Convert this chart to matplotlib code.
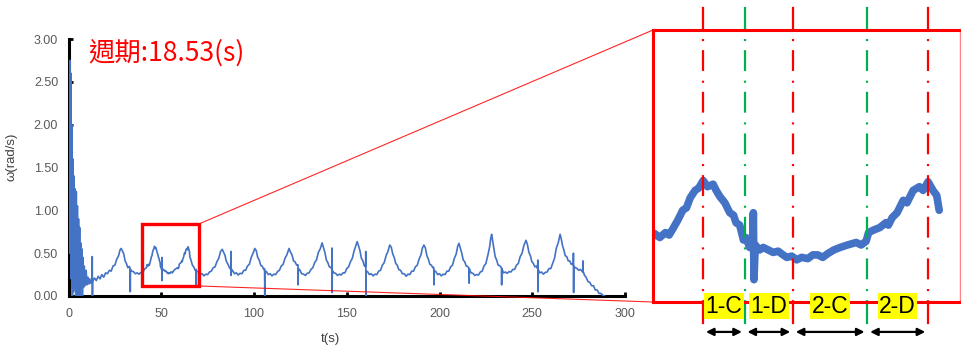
import matplotlib.pyplot as plt
import matplotlib.transforms as mtransforms
from matplotlib.patches import Rectangle, ConnectionPatch

plt.rcParams['lines.scale_dashes'] = False

# angular velocity, time in seconds
t_sec = [
    0.5, 0.9, 1.1, 1.3, 1.5, 1.7, 1.85, 1.95, 2.1, 2.4, 2.7, 3.0, 3.3, 3.6, 3.9, 4.2, 4.5, 4.8, 5.1, 5.4,
    5.7, 6.0, 6.3, 6.6, 6.9, 7.2, 7.5, 7.8, 8.1, 8.5, 9.0, 9.5, 10.0, 10.5, 11.0, 11.5, 12.0, 12.7, 12.8, 12.9, 13.0,
    14, 15, 16, 17, 18, 19, 20, 21, 22, 23, 24, 25, 26, 27, 27.8, 28.4,
    29.2, 29.8, 30.5, 31.2, 32.0, 32.8, 33.2, 33.3, 33.4, 34, 35, 36, 37, 38, 39, 40, 41, 42,
    42.4, 42.85, 43.3, 43.6, 43.9, 44.3, 44.7, 45.0, 45.3, 45.7, 46.0, 46.35, 46.7, 47.15, 47.4, 47.7, 48.1, 48.5,
    48.8, 49.0, 49.3, 49.6, 49.8, 50.1, 50.35, 50.4, 50.45, 50.55, 50.9, 51.2, 51.6, 52.0, 52.4, 52.8, 53.1, 53.5,
    53.9, 54.3, 54.8, 55.2, 55.6, 56.0, 56.4, 56.9, 57.4, 58.0, 58.7, 59.1, 59.5, 59.7, 60.1, 60.6, 61.1, 61.3,
    61.6, 62.0, 62.5, 62.8, 63.3, 63.8, 64.1, 64.5, 64.9, 65.2, 65.4,
    66, 66.8, 67.5, 68.3, 68.8, 68.9, 69.0, 70, 71, 72, 73, 74, 75, 76, 77, 78, 79, 80, 81, 82, 82.9,
    83.6, 84.3, 85, 86, 87, 87.5, 87.6, 87.7, 87.8, 88.5, 89.5, 90.5, 91.5, 92.5, 93.5, 94.5, 95.5, 96.5, 97.5, 98.5, 99.5, 100.4,
    101.2, 102, 102.8, 103.6, 104.5, 105.3, 105.7, 105.8, 105.9, 106.7, 107.7, 108.7, 109.7, 110.7, 111.7, 112.7, 113.7, 114.7, 115.7, 116.7, 117.7, 118.9,
    119.7, 120.5, 121.3, 122.1, 123, 123.7, 123.8, 123.9, 124.7, 125.7, 126.7, 127.7, 128.7, 129.7, 130.7, 131.7, 132.7, 133.7, 134.7, 135.7, 136.7,
    137.4, 138.2, 139, 139.8, 140.6, 141.4, 142.0, 142.05, 142.15, 142.2, 143, 144, 145, 146, 147, 148, 149, 150, 151, 152, 153, 154, 154.8, 155.6,
    156.3, 157.1, 157.9, 158.7, 159.5, 160.2, 160.25, 160.35, 160.4, 161.2, 162.2, 163.2, 164.2, 165.2, 166.2, 167.2, 168.2, 169.2, 170.2, 171.2, 172.2, 173.2,
    174, 174.8, 175.6, 176.4, 177.2, 178, 179, 180, 181, 182, 183, 184, 185, 186, 187, 188, 189, 190, 190.8, 191.6,
    192.4, 193.2, 194, 194.8, 195.6, 196.4, 196.9, 197.0, 197.1, 198, 199, 200, 201, 202, 203, 204, 205, 206, 207, 208, 209, 209.8, 210.5,
    211.2, 212, 212.8, 213.6, 214.4, 215.2, 215.9, 216.0, 216.1, 217, 218, 219, 220, 221, 222, 223, 224, 225, 226, 227, 227.6, 228.1,
    228.6, 229.2, 230, 230.8, 231.6, 232.4, 233.4, 233.5, 233.6, 234.5, 235.5, 236.5, 237.5, 238.5, 239.5, 240.5, 241.5, 242.5, 243.5, 244.5, 245.5, 246.6,
    247.4, 248.2, 249, 249.8, 250.6, 251.4, 252.2, 252.9, 253.0, 253.1, 253.2, 254, 255, 256, 257, 258, 259, 260, 261, 262, 263, 264, 265,
    265.6, 266.3, 267, 267.8, 268.6, 269.4, 270.2, 271, 271.8, 272.1, 272.2, 272.3, 272.4, 273.2, 274, 275, 276, 277.2, 277.3, 277.4,
    278.2, 279, 280, 281, 282, 283, 284, 285, 286, 287, 288, 289,
]
omega = [
    0.5, 2.75, 0.6, 2.6, 0.2, 2.0, 0.1, 1.95, 0.0, 1.6, 0.05, 1.4, 0.1, 1.25, 0.0, 1.22, 0.15, 1.05, 0.0, 0.9,
    0.1, 0.8, 0.0, 0.62, 0.1, 0.55, 0.0, 0.45, 0.1, 0.35, 0.12, 0.3, 0.13, 0.22, 0.14, 0.2, 0.15, 0.17, 0.46, 0.0, 0.17,
    0.21, 0.18, 0.23, 0.2, 0.25, 0.22, 0.27, 0.26, 0.3, 0.29, 0.35, 0.36, 0.43, 0.47, 0.54, 0.555,
    0.52, 0.49, 0.41, 0.38, 0.33, 0.345, 0.32, 0.05, 0.31, 0.29, 0.285, 0.26, 0.27, 0.255, 0.275, 0.27, 0.315, 0.33,
    0.367, 0.35, 0.37, 0.36, 0.385, 0.42, 0.46, 0.47, 0.51, 0.54, 0.55, 0.58, 0.555, 0.565, 0.54, 0.515, 0.49, 0.45,
    0.44, 0.41, 0.40, 0.34, 0.35, 0.31, 0.31, 0.45, 0.18, 0.32, 0.30, 0.31, 0.30, 0.29, 0.295, 0.28, 0.27, 0.275,
    0.26, 0.27, 0.265, 0.28, 0.28, 0.27, 0.285, 0.30, 0.31, 0.32, 0.33, 0.32, 0.335, 0.37, 0.38, 0.39, 0.41, 0.40,
    0.43, 0.45, 0.50, 0.49, 0.54, 0.555, 0.54, 0.575, 0.54, 0.52, 0.46,
    0.42, 0.36, 0.34, 0.3, 0.31, 0.11, 0.29, 0.285, 0.255, 0.26, 0.235, 0.255, 0.25, 0.28, 0.29, 0.33, 0.34, 0.4, 0.44, 0.52, 0.545,
    0.51, 0.48, 0.41, 0.37, 0.32, 0.335, 0.52, 0.24, 0.31, 0.295, 0.26, 0.27, 0.245, 0.265, 0.26, 0.3, 0.3, 0.35, 0.37, 0.45, 0.5, 0.555,
    0.53, 0.45, 0.42, 0.36, 0.345, 0.31, 0.32, 0.0, 0.29, 0.285, 0.25, 0.26, 0.235, 0.255, 0.25, 0.285, 0.3, 0.35, 0.37, 0.44, 0.48, 0.555,
    0.51, 0.48, 0.41, 0.4, 0.36, 0.365, 0.13, 0.32, 0.305, 0.26, 0.255, 0.24, 0.265, 0.27, 0.31, 0.33, 0.39, 0.42, 0.51, 0.55, 0.62,
    0.57, 0.51, 0.42, 0.39, 0.34, 0.335, 0.31, 0.56, 0.04, 0.3, 0.27, 0.265, 0.24, 0.255, 0.245, 0.27, 0.27, 0.32, 0.34, 0.4, 0.44, 0.53, 0.58, 0.635,
    0.59, 0.53, 0.44, 0.41, 0.35, 0.345, 0.52, 0.0, 0.29, 0.285, 0.25, 0.26, 0.235, 0.255, 0.25, 0.29, 0.3, 0.36, 0.39, 0.47, 0.52, 0.595,
    0.57, 0.49, 0.45, 0.38, 0.36, 0.31, 0.3, 0.26, 0.26, 0.23, 0.255, 0.25, 0.29, 0.29, 0.34, 0.36, 0.43, 0.48, 0.56, 0.595,
    0.56, 0.47, 0.43, 0.37, 0.36, 0.33, 0.335, 0.13, 0.3, 0.285, 0.25, 0.26, 0.235, 0.255, 0.25, 0.29, 0.29, 0.34, 0.36, 0.44, 0.49, 0.58, 0.615,
    0.56, 0.5, 0.42, 0.4, 0.35, 0.345, 0.32, 0.15, 0.32, 0.27, 0.265, 0.24, 0.25, 0.245, 0.28, 0.29, 0.35, 0.38, 0.47, 0.57, 0.67, 0.72,
    0.65, 0.57, 0.46, 0.42, 0.36, 0.355, 0.33, 0.13, 0.32, 0.27, 0.28, 0.265, 0.285, 0.28, 0.31, 0.31, 0.36, 0.38, 0.46, 0.5, 0.59, 0.65,
    0.6, 0.51, 0.47, 0.4, 0.38, 0.34, 0.35, 0.32, 0.42, 0.05, 0.31, 0.27, 0.28, 0.255, 0.275, 0.28, 0.32, 0.32, 0.38, 0.44, 0.56, 0.62, 0.72,
    0.67, 0.59, 0.54, 0.47, 0.46, 0.41, 0.41, 0.37, 0.38, 0.36, 0.5, 0.04, 0.35, 0.33, 0.325, 0.3, 0.31, 0.28, 0.41, 0.29,
    0.24, 0.22, 0.17, 0.16, 0.12, 0.12, 0.07, 0.07, 0.03, 0.03, 0.01, 0.0,
]
assert len(t_sec) == len(omega)

x_ticks = [0, 50, 100, 150, 200, 250, 300]
y_ticks = [0.0, 0.5, 1.0, 1.5, 2.0, 2.5, 3.0]
period_text = '週期:18.53(s)'

# zoomed window marked on the main chart, and what the enlarged panel shows
zoom_t = (39.4, 70.2)
zoom_w = (0.117, 0.84)
inset_t = (42.3, 67.08)
inset_w = (0.09, 1.187)
inset_end = 65.4

# phase boundaries inside the enlarged panel
phase_t = [46.35, 49.7, 53.6, 59.6, 64.5]
phase_c = ['#FF0000', '#00B050', '#FF0000', '#00B050', '#FF0000']
phase_labels = ['1-C', '1-D', '2-C', '2-D']

blue = '#4472C4'
W, H = 961, 345

fig = plt.figure(figsize=(W / 100, H / 100), dpi=100)

# ---- main chart ----
ax = fig.add_axes([68.5 / W, 1 - 296 / H, 556.5 / W, 257 / H])
ax.plot(t_sec, omega, color=blue, lw=1.2, zorder=3)
ax.set_xlim(0, 300)
ax.set_ylim(0, 3)
ax.set_xticks(x_ticks)
ax.set_yticks(y_ticks)
ax.set_yticklabels([f'{v:.2f}' for v in y_ticks])
for s in ['top', 'right']:
    ax.spines[s].set_visible(False)
for s in ['left', 'bottom']:
    ax.spines[s].set_linewidth(2.2)
    ax.spines[s].set_color('black')
ax.tick_params(direction='in', length=3, width=2, colors='black', labelcolor='#595959', labelsize=9)
ax.tick_params(axis='y', pad=7.5)
ax.tick_params(axis='x', pad=8.5)
for lab in ax.get_xticklabels() + ax.get_yticklabels():
    lab.set_family('Liberation Sans')
ax.set_xlabel('t(s)', fontsize=9.5, color='#404040', family='Liberation Sans')
ax.set_ylabel('ω(rad/s)', fontsize=9.5, color='#404040', family='Liberation Sans')
ax.xaxis.set_label_coords(0.47, -0.145)
ax.yaxis.set_label_coords(-0.092, 0.54)

ax.add_patch(Rectangle((zoom_t[0], zoom_w[0]), zoom_t[1] - zoom_t[0], zoom_w[1] - zoom_w[0],
                       fill=False, ec='#FF0000', lw=2.4, zorder=4))

fig.text(88 / W, 1 - 53 / H, period_text, color='#FF0000', fontsize=19,
         family=['Noto Sans CJK TC', 'DejaVu Sans'], ha='left', va='center')

# ---- enlarged panel ----
axin = fig.add_axes([653 / W, 1 - 302 / H, 307 / W, 272 / H])
axin.set_xlim(*inset_t)
axin.set_ylim(*inset_w)
axin.set_xticks([])
axin.set_yticks([])
for s in axin.spines.values():
    s.set_color('#FF0000')
    s.set_linewidth(2.2)
axin.spines['right'].set_color('#FF8080')
axin.spines['right'].set_linewidth(1.0)

sel = [i for i, t in enumerate(t_sec) if t <= inset_end]
axin.plot([t_sec[i] for i in sel], [omega[i] for i in sel], color=blue, lw=5.5,
          solid_joinstyle='round', solid_capstyle='round')

trans = mtransforms.blended_transform_factory(axin.transData, axin.transAxes)
for t, c in zip(phase_t, phase_c):
    axin.plot([t, t], [1.0, 1.081], transform=trans, color=c, lw=1.6, clip_on=False)
    axin.plot([t, t], [0.0, -0.077], transform=trans, color=c, lw=1.6, clip_on=False)
    axin.plot([t, t], [1.0, 0.0], transform=trans, color=c, lw=1.6,
              ls=(15.5, (15, 7, 1.5, 6.5)))

for i, lab in enumerate(phase_labels):
    a, b = phase_t[i], phase_t[i + 1]
    axin.text((a + b) / 2, -0.015, lab, transform=trans, ha='center', va='center',
              fontsize=16.5, family='Liberation Sans', color='black', zorder=6, clip_on=False,
              bbox=dict(boxstyle='square,pad=0.06', fc='#FFFF00', ec='none'))
    axin.annotate('', xy=(b, -0.11), xytext=(a, -0.11), xycoords=trans, textcoords=trans,
                  annotation_clip=False,
                  arrowprops=dict(arrowstyle='<|-|>', color='black', lw=1.6,
                                  shrinkA=2, shrinkB=2, mutation_scale=11))

# lines tying the marked window to the enlarged panel
for yA, yB in [(zoom_w[1], 1), (zoom_w[0], 0)]:
    con = ConnectionPatch(xyA=(zoom_t[1], yA), coordsA=ax.transData,
                          xyB=(0, yB), coordsB=axin.transAxes,
                          color='#FF0000', lw=0.8, alpha=0.85)
    fig.add_artist(con)

fig.savefig('out.png', dpi=100)
